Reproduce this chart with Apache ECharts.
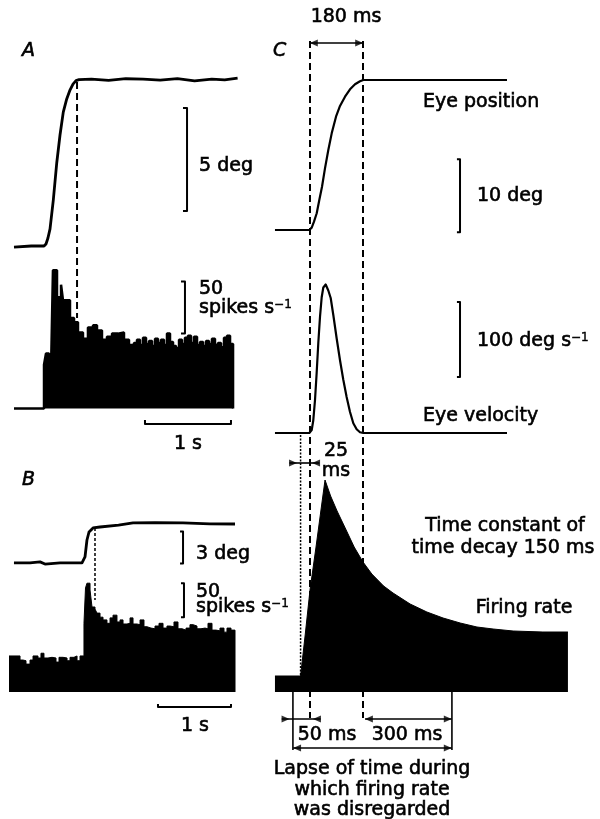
<!DOCTYPE html>
<html><head><meta charset="utf-8">
<script src="https://cdn.jsdelivr.net/npm/echarts@6/dist/echarts.min.js"></script>
<style>html,body{margin:0;padding:0;background:#fff}#c{width:600px;height:819px}</style>
</head><body><div id="c"></div>
<script>
// ---------------- DATA ----------------
// Panel A: eye position (deg) vs time (s)
const eyeA_t   = [0, 0.20, 0.349, 0.372, 0.395, 0.419, 0.457, 0.497, 0.535, 0.573, 0.613, 0.651, 0.686, 0.721, 0.756, 0.90, 1.10, 1.30, 1.50, 1.70, 1.90, 2.10, 2.30, 2.45, 2.60];
const eyeA_deg = [-0.05, 0.0, 0.0, 0.1, 0.39, 0.83, 2.23, 4.03, 5.39, 6.50, 7.14, 7.57, 7.86, 8.03, 8.08, 8.1, 8.04, 8.12, 8.1, 8.05, 8.12, 8.02, 8.1, 8.06, 8.15];
// Panel A: firing-rate histogram (bin start s, spikes/s)
const histA_t = [0, 0.349, 0.372, 0.407, 0.430, 0.453, 0.500, 0.547, 0.570, 0.605, 0.651, 0.698, 0.744, 0.802, 0.860, 0.919, 0.965, 1.023, 1.081, 1.140,
  1.209, 1.279, 1.337, 1.395, 1.430, 1.465, 1.500, 1.535, 1.570, 1.605, 1.640, 1.674, 1.709, 1.744, 1.779, 1.814, 1.849, 1.884, 1.919, 1.953,
  1.988, 2.023, 2.058, 2.093, 2.128, 2.163, 2.198, 2.233, 2.267, 2.302, 2.337, 2.372, 2.407, 2.442, 2.477, 2.512, 2.547];
const histA_rate = [0, 42, 53, 50, 35, 133, 107, 119, 104, 104, 87, 83, 73, 67, 78, 80, 75, 66, 69, 72,
  73, 66, 61, 63, 66, 61, 68, 62, 65, 60, 67, 63, 66, 61, 72, 64, 60, 58, 66, 62,
  68, 70, 63, 69, 61, 64, 60, 65, 62, 67, 61, 63, 59, 68, 70, 62, 0];
// Panel B: eye position (deg) vs time (s)
const eyeB_t   = [0.068, 0.288, 0.425, 0.493, 0.70, 1.0, 1.041, 1.068, 1.096, 1.151, 1.247, 1.50, 1.699, 2.0, 2.384, 2.75, 3.096];
const eyeB_deg = [0.05, 0.05, 0.15, -0.05, 0.05, 0.05, 0.61, 2.2, 2.95, 3.33, 3.42, 3.6, 3.8, 3.82, 3.8, 3.72, 3.7];
// Panel B: firing-rate histogram
const histB_t = [0, 0.151, 0.192, 0.233, 0.288, 0.329, 0.397, 0.438, 0.479, 0.534, 0.589, 0.644, 0.685, 0.740, 0.795, 0.836, 0.890, 0.932, 0.973,
  1.027, 1.048, 1.068, 1.110, 1.137, 1.178, 1.205, 1.247, 1.288, 1.342, 1.384, 1.425, 1.479, 1.521, 1.562, 1.616, 1.658, 1.699, 1.753, 1.795,
  1.849, 1.890, 1.945, 2.000, 2.055, 2.110, 2.164, 2.205, 2.260, 2.315, 2.370, 2.425, 2.479, 2.521, 2.575, 2.630, 2.685, 2.726, 2.781, 2.836,
  2.890, 2.945, 2.986, 3.041, 3.096];
const histB_rate = [53, 47, 46, 41, 47, 53, 50, 57, 50, 51, 50, 44, 51, 50, 46, 51, 53, 46, 53,
  101, 153, 160, 150, 125, 122, 116, 110, 106, 101, 109, 113, 103, 106, 100, 101, 109, 100, 99, 106,
  96, 94, 93, 97, 101, 94, 97, 96, 103, 93, 91, 94, 99, 97, 93, 94, 93, 101, 91, 90,
  94, 88, 94, 91, 0];
// Panel C: schematic (time in ms from saccade onset)
const posC_ms  = [-119, -2.4, 5.8, 13.6, 22.8, 31.6, 40.8, 50.9, 62.2, 73.7, 88.3, 101.9, 118.9, 135.9, 152.9, 169.8, 181, 669];
const posC_deg = [0, 0, 0.32, 1.14, 2.29, 4.11, 5.93, 8.45, 10.96, 13.24, 15.52, 16.99, 18.26, 19.27, 19.96, 20.37, 20.55, 20.55];
const velC_ms  = [-119, -2.4, 5.8, 11.2, 17, 22.6, 28.2, 34, 39.7, 45.2, 53.3, 62.2, 70.3, 79.3, 90.6, 101.9, 113.1, 124.4, 135.9, 147.1, 158.4, 169.8, 181, 669];
const velC_dps = [0, 0, 4, 17, 44, 80, 120, 155, 181, 194, 198, 190, 180, 157, 126, 97, 71, 48, 28, 13, 5, 1, 0, 0];
const fireC_ms   = [-119, -32, -16, 0, 20, 40, 51, 70, 92, 126, 150, 180, 210, 250, 282, 340, 397, 452, 510, 567, 622, 690, 791, 876];
const fireC_rate = [16, 16, 58, 102, 144, 188, 212, 196, 181, 160, 145, 130, 118, 106, 99, 88, 80, 74, 69, 65, 63, 61, 60, 60];

// ---------------- CHART ----------------
const pairs = (a, b) => a.map((v, i) => [v, b[i]]);
const H = 819;
function yr(zeroPx, pxPerUnit) { return { min: -(H - zeroPx) / pxPerUnit, max: zeroPx / pxPerUnit }; }
const FONT = '"DejaVu Sans", sans-serif';
const msPx = 53 / 180;

const grids = [
  { left: 14, top: 0, width: 2.6 * 86, height: H },
  { left: 9, top: 0, width: 3.1 * 73, height: H },
  { left: 310 - 120 * msPx, top: 0, width: 1000 * msPx, height: H }
];
const xAxes = [
  { gridIndex: 0, min: 0, max: 2.6 },
  { gridIndex: 1, min: 0, max: 3.1 },
  { gridIndex: 2, min: -120, max: 880 }
].map(a => Object.assign({ type: 'value', show: false }, a));
const yAxes = [
  Object.assign({ gridIndex: 0 }, yr(246, 20.6)),     // 0 A deg
  Object.assign({ gridIndex: 0 }, yr(408.5, 1.04)),   // 1 A spikes/s
  { gridIndex: 0, min: 0, max: H, inverse: true },     // 2 A layout
  Object.assign({ gridIndex: 1 }, yr(563.5, 10.67)),  // 3 B deg
  Object.assign({ gridIndex: 1 }, yr(692, 0.68)),     // 4 B spikes/s
  { gridIndex: 1, min: 0, max: H, inverse: true },     // 5 B layout
  Object.assign({ gridIndex: 2 }, yr(230, 7.3)),      // 6 C deg
  Object.assign({ gridIndex: 2 }, yr(433, 0.75)),     // 7 C deg/s
  Object.assign({ gridIndex: 2 }, yr(692, 1)),        // 8 C firing (a.u.)
  { gridIndex: 2, min: 0, max: H, inverse: true }      // 9 C layout
].map(a => Object.assign({ type: 'value', show: false }, a));

function seg(xi, yi, data, width, type, extra) {
  return Object.assign({
    type: 'line', xAxisIndex: xi, yAxisIndex: yi, data: data, symbol: 'none', silent: true, z: 2,
    lineStyle: { color: '#000', width: width, type: type || 'solid', join: 'round' }
  }, extra || {});
}
function hist(xi, yi, data, width) {
  return {
    type: 'line', step: 'end', xAxisIndex: xi, yAxisIndex: yi, data: data, symbol: 'none', silent: true, z: 3,
    lineStyle: { color: '#000', width: width }, areaStyle: { color: '#000', opacity: 1 }
  };
}
const DASH = [7, 4];

const series = [
  // ---- A ----
  seg(0, 0, pairs(eyeA_t, eyeA_deg), 2.8),
  hist(0, 1, pairs(histA_t, histA_rate), 2.5),
  seg(0, 2, [[0.733, 82], [0.733, 318]], 2, DASH),
  seg(0, 0, [[1.965, 1.7], [2.012, 1.7], [2.012, 6.7], [1.965, 6.7]], 2),
  seg(0, 1, [[1.942, 72], [1.988, 72], [1.988, 122], [1.942, 122]], 2),
  seg(0, 1, [[1.523, -11], [1.523, -15], [2.523, -15], [2.523, -11]], 2),
  // ---- B ----
  seg(1, 3, pairs(eyeB_t, eyeB_deg), 2.8),
  hist(1, 4, pairs(histB_t, histB_rate), 1),
  seg(1, 5, [[1.178, 528], [1.178, 600]], 1.5, [3, 2]),
  seg(1, 3, [[2.343, 0], [2.384, 0], [2.384, 3], [2.343, 3]], 2),
  seg(1, 4, [[2.356, 110], [2.397, 110], [2.397, 160], [2.356, 160]], 2),
  seg(1, 4, [[2.041, -17.6], [2.041, -22], [3.041, -22], [3.041, -17.6]], 2),
  // ---- C ----
  seg(2, 9, [[0, 41], [0, 718]], 2, DASH, { z: 1 }),
  seg(2, 9, [[180, 41], [180, 718]], 2, DASH, { z: 1 }),
  seg(2, 9, [[-32, 435], [-32, 676]], 1.5, [2, 1.5], { z: 1 }),
  seg(2, 6, pairs(posC_ms, posC_deg), 2.2),
  seg(2, 7, pairs(velC_ms, velC_dps), 2.2),
  { type: 'line', xAxisIndex: 2, yAxisIndex: 8, data: pairs(fireC_ms, fireC_rate), symbol: 'none', silent: true, z: 3,
    lineStyle: { color: '#000', width: 1 }, areaStyle: { color: '#000', opacity: 1 } },
  seg(2, 6, [[499, -0.3], [509.5, -0.3], [509.5, 9.7], [499, 9.7]], 2),
  seg(2, 7, [[499, 74.7], [509.5, 74.7], [509.5, 174.7], [499, 174.7]], 2),
  seg(2, 9, [[0, 43], [180, 43]], 1.6),
  seg(2, 9, [[-70, 463], [32, 463]], 1.6),
  seg(2, 9, [[-96, 719], [36, 719]], 1.6),
  seg(2, 9, [[187, 719], [481, 719]], 1.6),
  seg(2, 9, [[-57, 748], [481, 748]], 1.6),
  seg(2, 9, [[-58, 692], [-58, 750]], 1.6),
  seg(2, 9, [[482, 692], [482, 750]], 1.6),
  { type: 'scatter', xAxisIndex: 2, yAxisIndex: 9, silent: true, z: 4, symbol: 'triangle', symbolSize: [7, 8],
    itemStyle: { color: '#000' },
    data: [
      { value: [13, 43], symbolRotate: 90 }, { value: [167, 43], symbolRotate: -90 },
      { value: [-57.5, 463], symbolRotate: -90 }, { value: [20.5, 463], symbolRotate: 90 },
      { value: [-83, 719], symbolRotate: -90 }, { value: [23.5, 719], symbolRotate: 90 },
      { value: [200, 719], symbolRotate: 90 }, { value: [468, 719], symbolRotate: -90 },
      { value: [-44, 748], symbolRotate: 90 }, { value: [468, 748], symbolRotate: -90 }
    ] }
];

const TS = { fill: '#000', stroke: '#000', lineWidth: 0.6 };
const DY = 1;
function txt(text, x, y, align, italic) {
  return { type: 'text', x: x, y: y + DY, silent: true, z: 10,
    style: Object.assign({ text: text, font: (italic ? 'italic ' : '') + '19px ' + FONT, align: align || 'left', verticalAlign: 'middle' }, TS) };
}
function supTxt(main, x, y) {
  return { type: 'text', x: x, y: y + DY, silent: true, z: 10,
    style: Object.assign({ text: '{m|' + main + '}{s|\u22121}', font: '19px ' + FONT, align: 'left', verticalAlign: 'middle',
      rich: { m: Object.assign({ font: '19px ' + FONT }, TS), s: Object.assign({ font: '12px ' + FONT, verticalAlign: 'top' }, TS, { lineWidth: 0.4 }) } }, TS) };
}
const graphics = [
  txt('A', 22, 50, 'left', true),
  txt('5 deg', 199, 165),
  txt('50', 199, 288),
  supTxt('spikes s', 199, 307),
  txt('1 s', 188, 443, 'center'),
  txt('B', 22, 479, 'left', true),
  txt('3 deg', 196, 553),
  txt('50', 196, 591),
  supTxt('spikes s', 196, 606),
  txt('1 s', 195, 725, 'center'),
  txt('180 ms', 346, 16, 'center'),
  txt('C', 273, 50, 'left', true),
  txt('Eye position', 423, 101),
  txt('10 deg', 477, 195),
  supTxt('100 deg s', 477, 340),
  txt('Eye velocity', 423, 415),
  txt('25', 336, 450, 'center'),
  txt('ms', 336, 470, 'center'),
  txt('Time constant of', 505, 525, 'center'),
  txt('time decay 150 ms', 503, 547, 'center'),
  txt('Firing rate', 524, 607, 'center'),
  txt('50 ms', 327, 734, 'center'),
  txt('300 ms', 407, 734, 'center'),
  txt('Lapse of time during', 372, 768, 'center'),
  txt('which firing rate', 372, 789, 'center'),
  txt('was disregarded', 372, 809, 'center')
];

const chart = echarts.init(document.getElementById('c'), null, { renderer: 'canvas' });
chart.setOption({
  animation: false,
  backgroundColor: '#fff',
  grid: grids,
  xAxis: xAxes,
  yAxis: yAxes,
  series: series,
  graphic: graphics
});
</script></body></html>
